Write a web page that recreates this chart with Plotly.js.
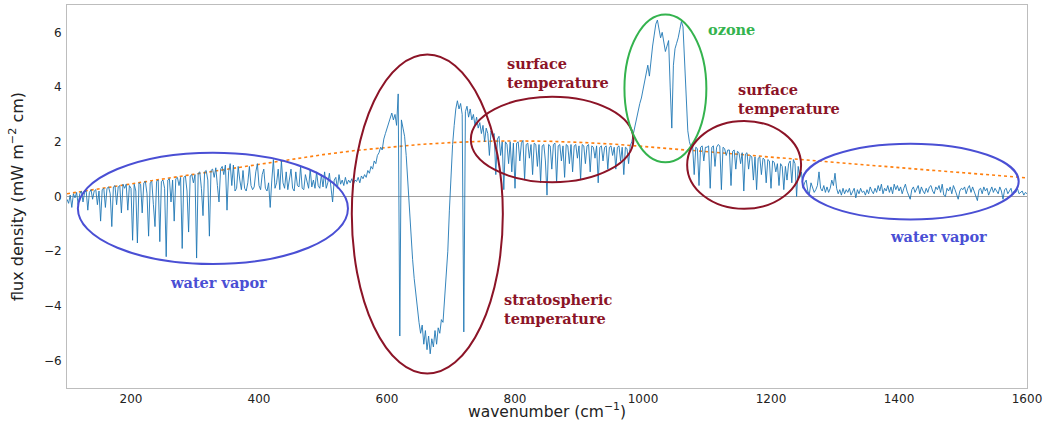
<!DOCTYPE html>
<html>
<head>
<meta charset="utf-8">
<script src="https://cdn.plot.ly/plotly-3.0.1.min.js"></script>
<style>html,body{margin:0;padding:0;background:#fff;}#chart{width:1044px;height:421px;}</style>
</head>
<body>
<div id="chart"></div>
<script>
// Spectrum sampled every 2.5 cm^-1 from 100 to 1600 (each row = 50 cm^-1)
const waveStart = 100, waveStep = 2.5;
const fluxDensity = [
  -0.1, -0.25, 0.05, -0.4, 0.1, -0.05, 0.15, -0.3, 0.1, 0.2, -0.2, 0.15, 0.2, -0.5, 0.15, 0.25, -0.1, 0.2, 0.25, -0.3,
  0.2, -0.9, 0.25, 0.3, -0.4, 0.3, 0.35, 0.1, -1.1, 0.35, 0.4, -0.3, 0.35, 0.4, -0.6, 0.45, 0.3, 0.45, -0.5, 0.4,
  0.3, -1.6, 0.45, 0.2, -1.7, 0.5, 0.45, -0.6, 0.5, 0.55, 0.1, -1.45, 0.5, 0.55, -0.3, -1.1, 0.55, 0.6, -1.65, 0.55,
  0.6, 0.3, -2.2, 0.6, 0.65, -0.2, 0.6, -0.9, 0.65, 0.7, 0.4, 0.7, -1.9, 0.7, 0.75, 0.2, -1.3, 0.75, 0.8, 0.5,
  0.8, -2.25, 0.85, 0.9, 0.3, -0.7, 0.9, 0.95, 0.6, -1.45, 0.95, 1.0, 0.7, 1.05, 0.4, -0.2, 1.0, 1.1, 0.8, 1.15,
  -0.5, 0.9, 1.2, 0.4, 1.15, 0.2, 0.3, 1.1, 0.6, 0.25, 0.95, 0.3, 0.2, 0.5, 1.1, 0.4, 0.25, 0.35, 0.9, 1.2,
  0.4, 0.25, 0.8, 1.0, 0.3, 0.2, 0.5, -0.4, 0.6, 1.35, 0.3, 0.5, 1.0, 0.25, 1.3, 0.5, 0.3, 0.9, 0.25, 0.6,
  1.0, 0.3, 0.2, 0.9, 0.4, 0.35, 1.1, 0.3, 0.25, 0.8, 0.5, 0.3, 1.0, 0.35, 0.6, 0.3, 0.9, 0.4, 0.3, 0.8,
  0.35, 0.9, 0.3, 0.5, 0.85, 0.25, -0.2, 0.6, 0.7, 0.3, 0.8, 0.45, 0.6, 0.4, 0.7, 0.45, 0.6, 0.5, 0.65, 0.45,
  0.6, 0.55, 0.7, 0.5, 0.75, 0.65, 0.8, 0.7, 0.95, 0.85, 1.1, 1.0, 1.3, 1.2, 1.5, 1.6, 1.8, 1.7, 2.1, 2.3,
  2.5, 2.7, 2.9, 3.05, 2.8, 3.0, 2.6, 3.75, -5.1, 2.8, 2.5, 2.2, 1.5, 0.5, -0.5, -1.5, -2.3, -3.0, -3.6, -4.2,
  -4.6, -5.0, -4.7, -5.4, -4.9, -5.6, -5.1, -5.75, -5.2, -5.5, -4.9, -5.4, -4.8, -5.0, -4.5, -4.6, -3.8, -3.0, -2.0, -0.5,
  0.8, 1.9, 2.6, 3.2, 3.5, 3.2, 3.4, 3.0, -4.95, 3.1, 3.3, 2.9, 3.2, 2.8, 3.0, 2.6, 2.9, 2.5, 2.7, 2.3,
  2.6, 2.0, 2.5, 2.3, 1.5, 2.4, 2.2, 2.3, 0.8, 2.1, 2.2, 1.5, 2.0, 0.25, 2.0, 1.9, 1.2, 2.0, 0.9, 1.95,
  0.3, 1.95, 2.0, 1.3, 1.95, 2.05, 0.6, 1.9, 1.95, 1.4, 1.9, 0.8, 1.95, 1.9, 1.1, 1.9, 0.5, 1.85, 1.9, 1.3,
  0.05, 1.9, 1.85, 1.0, 1.9, 1.95, 0.5, 1.85, 1.9, 1.3, 1.85, 0.7, 1.9, 1.85, 1.2, 1.9, 0.9, 1.85, 1.9, 1.4,
  1.85, 0.6, 1.9, 1.85, 1.2, 1.85, 1.9, 0.9, 1.85, 1.8, 1.4, 1.85, 0.5, 1.8, 1.85, 1.3, 1.8, 1.85, 1.0, 1.8,
  1.85, 1.5, 1.8, 1.0, 1.8, 1.85, 1.3, 1.8, 0.8, 1.8, 1.75, 1.2, 1.85, 2.0, 2.3, 2.6, 2.9, 3.2, 3.4, 3.6,
  3.9, 4.2, 4.6, 4.8, 4.4, 5.0, 5.5, 5.9, 6.3, 6.45, 6.1, 5.8, 6.0, 5.6, 5.3, 5.5, 5.7, 4.0, 2.5, 4.8,
  5.4, 5.6, 5.8, 6.1, 6.4, 6.2, 5.0, 3.6, 2.4, 2.0, 1.8, 1.85, 0.8, 1.8, 1.75, 0.4, 1.8, 1.85, 1.3, 1.8,
  1.8, 1.85, 0.3, 1.8, 1.85, 1.1, 1.8, 1.9, 1.85, 0.25, 1.8, 1.75, 1.5, 1.7, 1.7, 0.4, 1.65, 1.7, 1.0, 1.65,
  1.6, 1.2, 1.6, 0.2, 1.55, 1.6, 1.0, 1.5, 1.45, 0.6, 1.45, 0.25, 1.4, 1.45, 0.8, 1.4, 1.35, 0.5, 1.35, 1.3,
  0.3, 1.3, 1.25, 0.9, 1.2, 0.4, 1.2, 1.1, 0.25, 1.1, 0.6, 1.2, 1.3, 0.5, 1.35, 1.2, 0.0, 1.1, 0.7, 0.9,
  0.3, 0.5, 0.6, 0.2, 0.1, 0.5, 0.3, 0.15, 0.25, 0.4, 0.9, 0.3, 0.2, 0.4, 0.15, 0.35, 0.15, 0.3, 0.6, 0.4,
  0.85, 0.3, 0.1, 0.25, 0.05, 0.3, 0.1, 0.25, 0.15, 0.3, 0.05, 0.2, 0.3, -0.05, 0.25, 0.1, 0.3, 0.15, 0.2, 0.05,
  0.25, 0.1, 0.35, 0.2, 0.1, 0.3, 0.15, 0.4, 0.2, 0.45, 0.1, 0.3, 0.2, 0.4, 0.15, 0.35, 0.1, 0.45, 0.25, 0.4,
  0.2, 0.35, 0.1, 0.3, 0.45, 0.2, 0.05, -0.1, 0.25, 0.35, 0.15, 0.3, 0.4, 0.1, 0.35, 0.2, 0.1, 0.3, 0.15, 0.35,
  0.4, 0.2, 0.1, 0.35, 0.25, 0.4, 0.15, 0.45, 0.05, 0.0, 0.3, 0.2, 0.35, 0.1, 0.4, 0.25, 0.1, -0.1, 0.2, 0.3,
  0.25, 0.35, 0.1, 0.3, 0.4, 0.15, 0.35, 0.2, 0.05, -0.15, 0.25, 0.3, 0.1, 0.35, 0.2, 0.3, 0.05, 0.2, 0.35, 0.15,
  0.3, 0.2, 0.1, 0.35, 0.2, -0.1, 0.25, 0.3, 0.1, 0.2, 0.3, 0.05, 0.2, 0.15, 0.3, 0.1, 0.15, 0.2, 0.05, 0.15,
  0.1
];
const wavenumber = fluxDensity.map((_, i) => waveStart + i * waveStep);

// Dotted reference curve
const refWave = [100,150,200,250,300,350,400,450,500,550,600,650,700,750,800,850,900,950,1000,1050,1100,1150,1200,1250,1300,1350,1400,1450,1500,1550,1600];
const refFlux = [0.1,0.27,0.46,0.64,0.82,1.0,1.18,1.35,1.53,1.68,1.8,1.9,1.97,2.02,2.03,2.02,1.98,1.92,1.83,1.74,1.64,1.54,1.44,1.34,1.24,1.14,1.05,0.96,0.87,0.78,0.68];

// Highlight regions: [x0, x1, y0, y1]
const regionBoxes = [
  [117, 539, -2.47, 1.6],
  [545, 781, -6.47, 5.19],
  [731, 985, 0.52, 3.65],
  [971, 1099, 1.25, 6.65],
  [1069, 1247, -0.45, 2.76],
  [1249, 1587, -0.84, 1.93]
];
const BLUE = '#4a4fd4', RED = '#8c1427', GREEN = '#34b34e';
const regionColors = [BLUE, RED, RED, GREEN, RED, BLUE];

// Labels
const labelTexts = ['water vapor','stratospheric<br>temperature','surface<br>temperature','ozone','surface<br>temperature','water vapor'];
const labelX = [336, 779, 785, 1099, 1145, 1462];
const labelY = [-3.16, -4.13, 4.5, 6.1, 3.56, -1.48];
const labelAnchor = ['center','left','left','left','left','center'];
const labelColors = [BLUE, RED, RED, GREEN, RED, BLUE];

const xTitle = 'wavenumber (cm<sup>−1</sup>)';
const yTitle = 'flux density (mW m<sup>−2</sup> cm)';

const traces = [
  {x: refWave, y: refFlux, type: 'scatter', mode: 'lines', line: {color: '#ff7f0e', width: 1.6, dash: 'dot'}, hoverinfo: 'skip'},
  {x: wavenumber, y: fluxDensity, type: 'scatter', mode: 'lines', line: {color: '#1f77b4', width: 0.9}, hoverinfo: 'skip'}
];

const shapes = regionBoxes.map((b, i) => ({
  type: 'circle', xref: 'x', yref: 'y', x0: b[0], x1: b[1], y0: b[2], y1: b[3],
  line: {color: regionColors[i], width: 2}, layer: 'above'
}));

const annotations = labelTexts.map((t, i) => ({
  x: labelX[i], y: labelY[i], xref: 'x', yref: 'y', text: t, showarrow: false,
  xanchor: labelAnchor[i], yanchor: 'middle', align: 'left',
  font: {family: 'DejaVu Serif', size: 14.5, color: labelColors[i], weight: 'bold'}
}));
annotations.push({
  x: 0.5, y: -0.058, xref: 'paper', yref: 'paper', text: xTitle, showarrow: false,
  xanchor: 'center', yanchor: 'middle', font: {family: 'DejaVu Sans', size: 15.5, color: '#222'}
});

const layout = {
  width: 1044, height: 421,
  margin: {l: 67, r: 17, t: 5, b: 33},
  paper_bgcolor: '#fff', plot_bgcolor: '#fff',
  showlegend: false,
  font: {family: 'DejaVu Sans', size: 12, color: '#222'},
  xaxis: {
    range: [100, 1600], tickvals: [200,400,600,800,1000,1200,1400,1600],
    showgrid: false, zeroline: false, showline: true, mirror: true, linecolor: '#bdbdbd', linewidth: 1,
    ticks: '', ticklabelstandoff: 0
  },
  yaxis: {
    range: [-7, 7], tickvals: [-6,-4,-2,0,2,4,6],
    showgrid: false, zeroline: true, zerolinecolor: '#a0a0a0', zerolinewidth: 1.8,
    showline: true, mirror: true, linecolor: '#bdbdbd', linewidth: 1,
    ticks: '', ticklabelstandoff: 2,
    title: {text: yTitle, font: {size: 16, color: '#222'}, standoff: 16}
  },
  shapes: shapes,
  annotations: annotations
};

Plotly.newPlot('chart', traces, layout, {displayModeBar: false, staticPlot: true});
</script>
</body>
</html>
